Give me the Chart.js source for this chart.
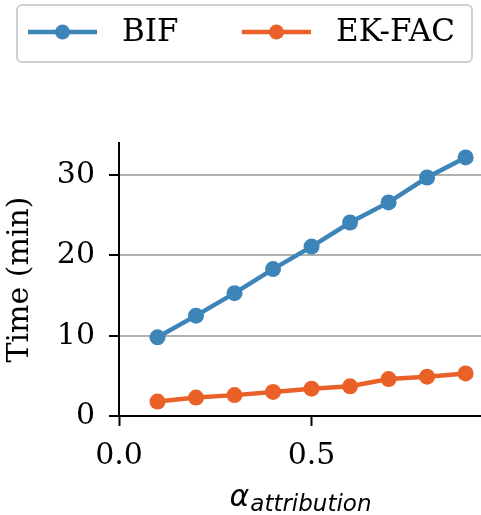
<!DOCTYPE html>
<html>
<head>
<meta charset="utf-8">
<script src="https://cdn.jsdelivr.net/npm/chart.js@4"></script>
<style>
  html, body { margin: 0; padding: 0; background: #fff; }
  #wrap { width: 481px; height: 515px; position: relative; }
</style>
</head>
<body>
<div id="wrap"><canvas id="grafico"></canvas></div>
<script>
// dados
const alphas = [0.1, 0.2, 0.3, 0.4, 0.5, 0.6, 0.7, 0.8, 0.9];
const tempoBIF = [9.8, 12.5, 15.3, 18.3, 21.1, 24.1, 26.6, 29.7, 32.2];
const tempoEKFAC = [1.8, 2.3, 2.6, 3.0, 3.4, 3.7, 4.6, 4.9, 5.3];
const ticksX = [0, 0.5];
const ticksY = [0, 10, 20, 30];
const nomes = ["BIF", "EK-FAC"];

const azul = "#3d85b8";
const laranja = "#ea6127";
const serif = "'DejaVu Serif', serif";

// legenda com caixa, desenhada por cima
const legendaPlugin = {
  id: "legendaCaixa",
  afterDraw(chart) {
    const ctx = chart.ctx;
    ctx.save();
    ctx.strokeStyle = "#d0d0d0";
    ctx.lineWidth = 2;
    ctx.beginPath();
    ctx.roundRect(17, 5, 455, 57, 5);
    ctx.stroke();
    const itens = [
      { x: 28, cor: azul, texto: nomes[0] },
      { x: 242, cor: laranja, texto: nomes[1] },
    ];
    itens.forEach((it) => {
      ctx.strokeStyle = it.cor;
      ctx.lineWidth = 4.5;
      ctx.beginPath();
      ctx.moveTo(it.x, 32);
      ctx.lineTo(it.x + 69, 32);
      ctx.stroke();
      ctx.fillStyle = it.cor;
      ctx.beginPath();
      ctx.arc(it.x + 34.5, 32, 7.5, 0, Math.PI * 2);
      ctx.fill();
      ctx.fillStyle = "#000";
      ctx.font = "31px " + serif;
      ctx.textBaseline = "middle";
      ctx.fillText(it.texto, it.x + 94, 33);
    });

    // título do eixo x: alpha com subscrito
    const cx = (chart.chartArea.left + chart.chartArea.right) / 2;
    ctx.fillStyle = "#000";
    ctx.textBaseline = "alphabetic";
    ctx.font = "italic 30px 'DejaVu Sans', sans-serif";
    const wA = ctx.measureText("α").width;
    ctx.font = "italic 23px 'DejaVu Sans', sans-serif";
    const wS = ctx.measureText("attribution").width;
    const x0 = cx - (wA + wS) / 2;
    ctx.font = "italic 30px 'DejaVu Sans', sans-serif";
    ctx.fillText("α", x0, 506);
    ctx.font = "italic 23px 'DejaVu Sans', sans-serif";
    ctx.fillText("attribution", x0 + wA + 1, 511);
    ctx.restore();
  },
};

function criarGrafico() {
  const ctx = document.getElementById("grafico").getContext("2d");
  new Chart(ctx, {
    type: "line",
    data: {
      datasets: [
        {
          label: nomes[0],
          data: alphas.map((a, i) => ({ x: a, y: tempoBIF[i] })),
          borderColor: azul,
          backgroundColor: azul,
          borderWidth: 4.5,
          pointRadius: 8,
          pointBorderWidth: 0,
        },
        {
          label: nomes[1],
          data: alphas.map((a, i) => ({ x: a, y: tempoEKFAC[i] })),
          borderColor: laranja,
          backgroundColor: laranja,
          borderWidth: 4.5,
          pointRadius: 8,
          pointBorderWidth: 0,
        },
      ],
    },
    options: {
      responsive: true,
      maintainAspectRatio: false,
      animation: false,
      layout: { autoPadding: false, padding: { top: 143, right: 0, left: 0, bottom: 0 } },
      plugins: {
        legend: { display: false },
        tooltip: { enabled: false },
      },
      scales: {
        x: {
          type: "linear",
          min: 0,
          max: 0.94,
          afterBuildTicks: (s) => { s.ticks = ticksX.map((v) => ({ value: v })); },
          afterFit: (s) => { s.height = 99; },
          border: { display: true, color: "#000", width: 2 },
          grid: { drawOnChartArea: false, drawTicks: true, tickLength: 10, tickColor: "#000", tickWidth: 2 },
          ticks: {
            color: "#000",
            font: { family: serif, size: 30 },
            padding: 12,
            maxRotation: 0,
            callback: (v) => v.toFixed(1),
          },
        },
        y: {
          min: 0,
          max: 34,
          afterBuildTicks: (s) => { s.ticks = ticksY.map((v) => ({ value: v })); },
          afterFit: (s) => { s.width = 119; },
          border: { display: true, color: "#000", width: 2 },
          grid: {
            color: (c) => (c.tick && c.tick.value === 0 ? "rgba(0,0,0,0)" : "#b0b0b0"),
            lineWidth: 2,
            drawTicks: true,
            tickLength: 10,
            tickColor: "#000",
            tickWidth: 2,
          },
          ticks: {
            color: "#000",
            font: { family: serif, size: 30 },
            padding: 14,
          },
          title: {
            display: true,
            text: "Time (min)",
            color: "#000",
            font: { family: serif, size: 30 },
            padding: { top: 2, bottom: 4 },
          },
        },
      },
    },
    plugins: [legendaPlugin],
  });
}

document.addEventListener("DOMContentLoaded", criarGrafico);
</script>
</body>
</html>
